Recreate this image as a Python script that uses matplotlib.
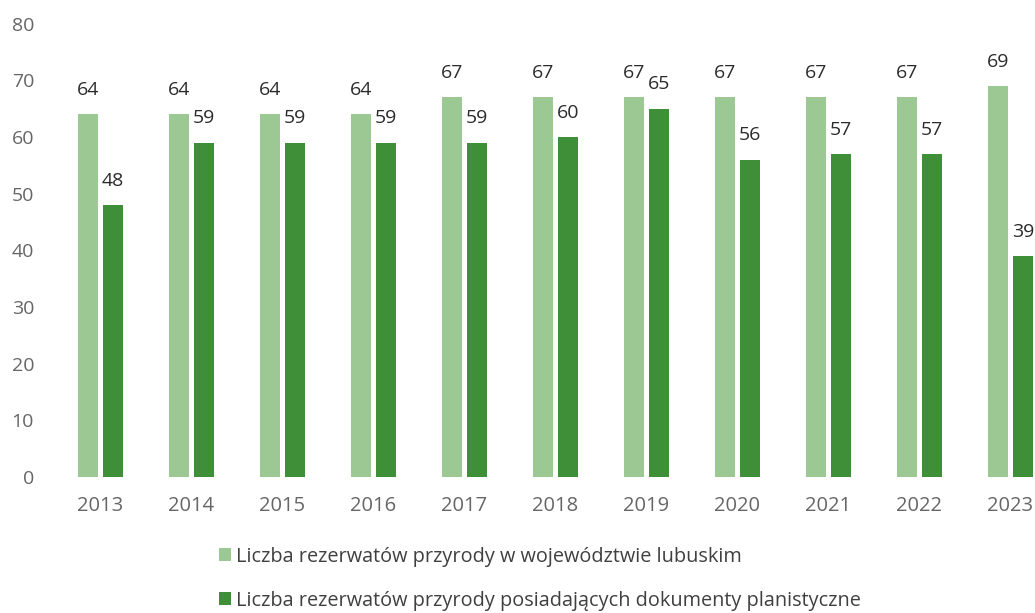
import matplotlib.pyplot as plt
import numpy as np

plt.rcParams['font.family'] = ['Open Sans', 'DejaVu Sans']

years = ["2013", "2014", "2015", "2016", "2017", "2018", "2019", "2020", "2021", "2022", "2023"]
all_reserves = [64, 64, 64, 64, 67, 67, 67, 67, 67, 67, 69]
with_plans = [48, 59, 59, 59, 59, 60, 65, 56, 57, 57, 39]
labels = ["Liczba rezerwatów przyrody w województwie lubuskim",
          "Liczba rezerwatów przyrody posiadających dokumenty planistyczne"]

light = '#9cc894'
dark = '#3f8f39'

fig = plt.figure(figsize=(10.35, 6.13), dpi=100)
ax = fig.add_axes([0.053, 0.222, 0.947, 0.7395])

x = np.arange(len(years))
w = 0.215
off = 0.137
b1 = ax.bar(x - off, all_reserves, w, color=light, label=labels[0])
b2 = ax.bar(x + off, with_plans, w, color=dark, label=labels[1])

# value labels above each bar
for bars, vals in ((b1, all_reserves), (b2, with_plans)):
    for rect, v in zip(bars, vals):
        ax.annotate(str(v), (rect.get_x() + rect.get_width() / 2, v),
                    xytext=(0, 11), textcoords='offset points',
                    ha='center', va='bottom', fontsize=14, color='#2b2b2b')

ax.set_ylim(0, 80)
ax.set_yticks(range(0, 81, 10))
ax.set_xlim(-0.5, 10.27)
ax.set_xticks(x)
ax.set_xticklabels(years)
ax.tick_params(length=0, labelsize=14, colors='#666666')
ax.tick_params(axis='y', pad=15)
ax.tick_params(axis='x', pad=14, labelsize=14.5)
for s in ax.spines.values():
    s.set_visible(False)

fig.legend(loc='center', bbox_to_anchor=(0.522, 0.056), ncol=1, frameon=False,
           fontsize=14.3, handlelength=0.6, handleheight=0.6, handletextpad=0.25,
           labelspacing=1.2, labelcolor='#404040')

fig.savefig('out.png', dpi=100)
